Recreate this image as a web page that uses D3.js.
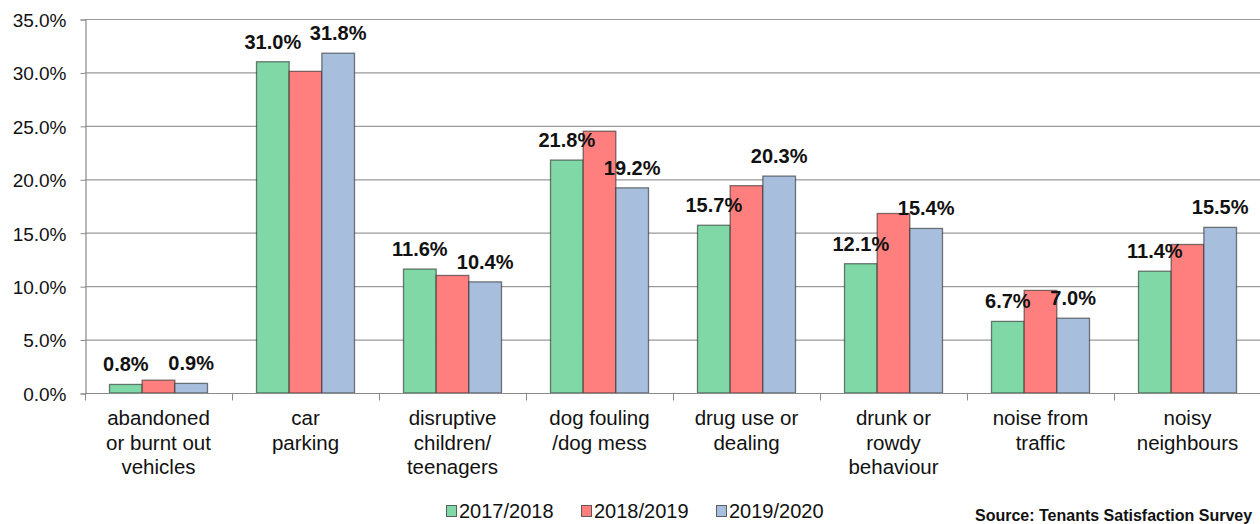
<!DOCTYPE html>
<html><head><meta charset="utf-8">
<script src="https://cdn.jsdelivr.net/npm/d3@7"></script>
<style>html,body{margin:0;padding:0;background:#fff;overflow:hidden}svg{display:block;font-family:"Liberation Sans",Arial,sans-serif}</style>
</head><body>
<svg id="c" width="1260" height="524"></svg>
<script>
const categories = [
  ["abandoned","or burnt out","vehicles"],
  ["car","parking"],
  ["disruptive","children/","teenagers"],
  ["dog fouling","/dog mess"],
  ["drug use or","dealing"],
  ["drunk or","rowdy","behaviour"],
  ["noise from","traffic"],
  ["noisy","neighbours"]
];
const seriesNames = ["2017/2018","2018/2019","2019/2020"];
const values2017 = [0.8, 31.0, 11.6, 21.8, 15.7, 12.1, 6.7, 11.4];
const values2018 = [1.2, 30.1, 11.0, 24.5, 19.4, 16.8, 9.6, 13.9];
const values2019 = [0.9, 31.8, 10.4, 19.2, 20.3, 15.4, 7.0, 15.5];
const labelled = [true, false, true];
const yTicks = [0,5,10,15,20,25,30,35];
const colors = ["#80D8A6","#FF7F7F","#A7BFDD"];
const sourceText = "Source: Tenants Satisfaction Survey";

const series = [values2017, values2018, values2019];
const svg = d3.select("#c");
const catIdx = categories.map((d,i)=>i);
const x = d3.scaleBand().domain(catIdx).range([85, 1261]).padding(0);
const xs = d3.scaleBand().domain([0,1,2]).range([0, x.bandwidth()]).paddingInner(0).paddingOuter(0.75);
const y = d3.scaleLinear().domain([0,35]).range([393,19]);

// gridlines
svg.append("g").selectAll("line").data(yTicks.filter(t=>t>0)).join("line")
  .attr("x1",85).attr("x2",1260).attr("y1",d=>y(d)+0.5).attr("y2",d=>y(d)+0.5)
  .attr("stroke","#9a9a9a").attr("stroke-width",1.2);

// y axis
const yAxis = d3.axisLeft(y).tickValues(yTicks).tickSize(5).tickPadding(14).tickFormat(d=>d.toFixed(1)+"%");
const ya = svg.append("g").attr("transform","translate(85.5,0.5)").call(yAxis);
ya.select(".domain").attr("stroke","#8a8a8a").attr("stroke-width",1.2);
ya.selectAll(".tick line").attr("stroke","#8a8a8a");
ya.selectAll(".tick text").attr("font-size","19px").attr("fill","#111").attr("font-family","Liberation Sans, Arial, sans-serif").attr("dy","0.36em");

// bars
const gs = svg.append("g").selectAll("g").data(series).join("g").attr("fill",(d,i)=>colors[i]);
gs.each(function(vals, si){
  d3.select(this).selectAll("rect").data(vals).join("rect")
    .attr("x",(v,ci)=>x(ci)+xs(si))
    .attr("y",v=>y(v))
    .attr("width",xs.bandwidth())
    .attr("height",v=>y(0)-y(v))
    .attr("stroke","rgba(40,40,40,0.6)").attr("stroke-width",1.3);
});

// x axis
const xAxisG = svg.append("g").attr("transform","translate(0,393.5)");
xAxisG.append("line").attr("x1",85).attr("x2",1260).attr("y1",0).attr("y2",0).attr("stroke","#8a8a8a").attr("stroke-width",1.2);
xAxisG.selectAll("line.tk").data(d3.range(categories.length+1)).join("line").attr("class","tk")
  .attr("x1",i=>85.5+i*x.step()).attr("x2",i=>85.5+i*x.step()).attr("y1",0).attr("y2",7).attr("stroke","#8a8a8a");
const catText = svg.append("g").selectAll("text").data(categories).join("text")
  .attr("x",(d,i)=>x(i)+x.bandwidth()/2).attr("y",425)
  .attr("text-anchor","middle").attr("font-size","20.5px").attr("fill","#111");
catText.each(function(lines){
  d3.select(this).selectAll("tspan").data(lines).join("tspan")
    .attr("x",d3.select(this).attr("x")).attr("dy",(l,i)=>i===0?0:24.5).text(l=>l);
});

// data labels
series.forEach((vals, si)=>{
  if(!labelled[si]) return;
  svg.append("g").selectAll("text").data(vals).join("text")
    .attr("x",(v,ci)=>x(ci)+xs(si)+xs.bandwidth()/2)
    .attr("y",v=>y(v)-13)
    .attr("text-anchor","middle").attr("font-size","20px").attr("font-weight","bold").attr("fill","#111")
    .text(v=>v.toFixed(1)+"%");
});

// legend
const legX = [446, 581, 716];
const leg = svg.append("g").selectAll("g").data(seriesNames).join("g")
  .attr("transform",(d,i)=>`translate(${legX[i]},0)`);
leg.append("rect").attr("x",0.5).attr("y",505.5).attr("width",10).attr("height",11)
  .attr("fill",(d,i)=>colors[i]).attr("stroke","rgba(40,40,40,0.7)").attr("stroke-width",1);
leg.append("text").attr("x",13).attr("y",518).attr("font-size","20px").attr("fill","#111").text(d=>d);

// source
svg.append("text").attr("x",975).attr("y",521).attr("font-size","16px").attr("font-weight","bold").attr("fill","#111").text(sourceText);
</script>
</body></html>
